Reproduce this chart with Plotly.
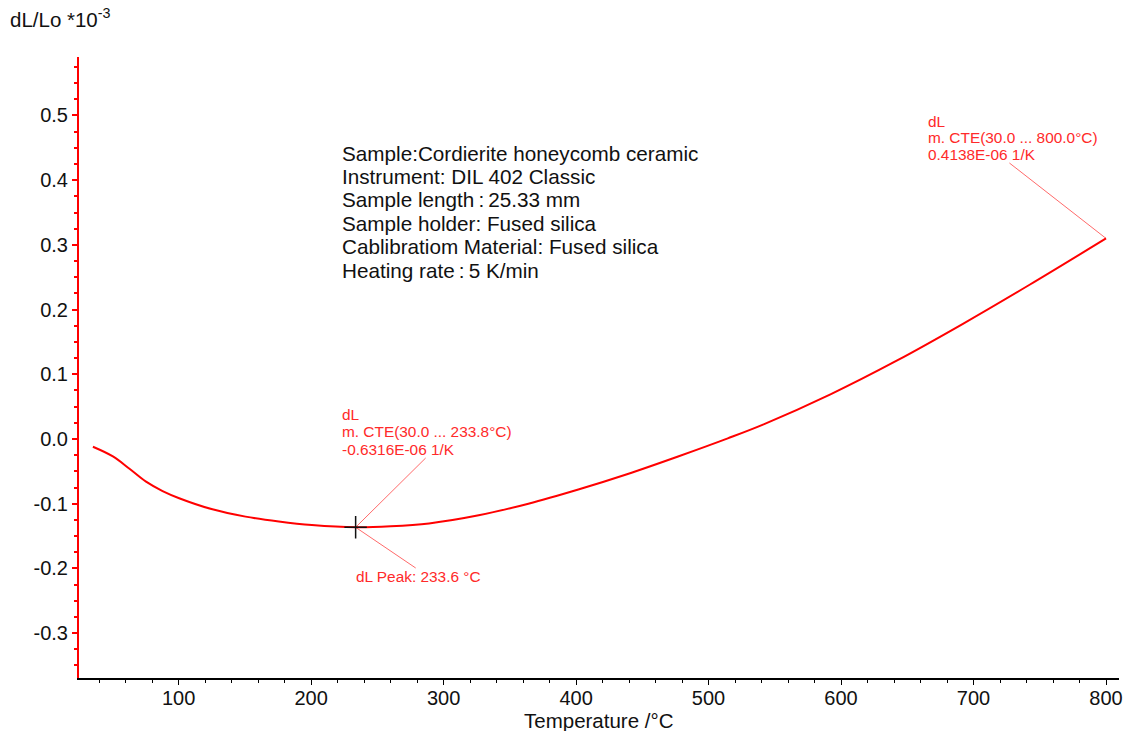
import numpy as np
import plotly.graph_objects as go

# Dilatometer run: relative length change dL/Lo (x1e-3) versus temperature
temperature_c = [35.3, 50.4, 62.9, 75.4, 87.9, 100.4, 125.5, 150.5, 175.6, 200.6,
                 233.6, 260.0, 289.0, 326.5, 364.0, 401.7, 439.0, 477.0, 514.5,
                 542.0, 592.0, 642.0, 692.0, 742.0, 800.0]
dl_lo = [-0.012, -0.027, -0.046, -0.066, -0.0805, -0.0915, -0.1087, -0.120, -0.1275, -0.1330,
         -0.1365, -0.1350, -0.1305, -0.118, -0.100, -0.078, -0.054, -0.027, 0.001,
         0.023, 0.069, 0.121, 0.178, 0.238, 0.310]

x_ticks = [100, 200, 300, 400, 500, 600, 700, 800]
y_ticks = [-0.3, -0.2, -0.1, 0.0, 0.1, 0.2, 0.3, 0.4, 0.5]
y_tick_text = ["-0.3", "-0.2", "-0.1", "0.0", "0.1", "0.2", "0.3", "0.4", "0.5"]

peak_temp = 233.6
peak_label = "dL Peak: 233.6 °C"
cte_low = ["dL", "m. CTE(30.0 ... 233.8°C)", "-0.6316E-06 1/K"]
cte_full = ["dL", "m. CTE(30.0 ... 800.0°C)", "0.4138E-06 1/K"]
info_lines = [
    "Sample:Cordierite honeycomb ceramic",
    "Instrument: DIL 402 Classic",
    "Sample length\u2009:\u200925.33 mm",
    "Sample holder: Fused silica",
    "Cablibratiom Material: Fused silica",
    "Heating rate\u2009:\u20095 K/min",
]

# canvas geometry (pixels)
W, H = 1131, 731
L, R, T, B = 79, 1123, 57, 678
X_RANGE = [24.8, 809.8]
Y_RANGE = [-0.3694, 0.5904]

FONT = "Liberation Sans, Arial, sans-serif"
RED = "#ff0000"
TXT_RED = "#ff2a2a"


def px_to_x(px):
    return X_RANGE[0] + (px - L) / (R - L) * (X_RANGE[1] - X_RANGE[0])


def py_to_y(py):
    return Y_RANGE[1] - (py - T) / (B - T) * (Y_RANGE[1] - Y_RANGE[0])


def paper(px, py):
    return (px - L) / (R - L), (B - py) / (B - T)


fig = go.Figure()

fig.add_trace(go.Scatter(
    x=temperature_c, y=dl_lo, mode="lines",
    line=dict(color=RED, width=2, shape="spline", smoothing=1.0),
    hoverinfo="skip", showlegend=False,
))

peak_val = float(np.interp(peak_temp, temperature_c, dl_lo))
end_t, end_v = temperature_c[-1], dl_lo[-1]

annotations = []
shapes = []


def text_at(px, py, s, size, color, anchor="left"):
    xp, yp = paper(px, py)
    annotations.append(dict(
        x=xp, y=yp, xref="paper", yref="paper", text=s, showarrow=False,
        xanchor=anchor, yanchor="middle", font=dict(family=FONT, size=size, color=color),
    ))


def leader(x0, y0, px, py):
    shapes.append(dict(
        type="line", xref="x", yref="y", x0=x0, y0=y0, x1=px_to_x(px), y1=py_to_y(py),
        line=dict(color="#ff6a6a", width=1), layer="below",
    ))


leader(peak_temp, peak_val, 427, 458)
leader(peak_temp, peak_val, 417, 568)
leader(end_t, end_v, 1013, 163)

fig.add_trace(go.Scatter(
    x=[peak_temp], y=[peak_val], mode="markers",
    marker=dict(symbol="cross-thin", size=16, line=dict(color="#111111", width=1.5)),
    hoverinfo="skip", showlegend=False,
))

# information block
for i, s in enumerate(info_lines):
    text_at(341, 153 + i * 23.4, s, 20.7, "#111111")

# CTE labels and peak label
for i, s in enumerate(cte_low):
    text_at(341, 414 + i * 17.5, s, 15.4, TXT_RED)
for i, s in enumerate(cte_full):
    text_at(929, 121 + i * 16.5, s, 15.4, TXT_RED)
text_at(355, 576, peak_label, 15.4, TXT_RED)

# axis titles
text_at(8, 18, "dL/Lo *10<sup>-3</sup>", 20.5, "#111111")
text_at(601, 720, "Temperature /°C", 20.5, "#111111", anchor="center")

fig.update_layout(
    width=W, height=H,
    margin=dict(l=L, r=W - R, t=T, b=H - B),
    paper_bgcolor="white", plot_bgcolor="white",
    annotations=annotations, shapes=shapes,
    font=dict(family=FONT, size=20, color="#111111"),
)

fig.update_xaxes(
    range=X_RANGE, tickvals=x_ticks, showgrid=False, zeroline=False,
    showline=True, linecolor="#000000", linewidth=1.5,
    ticks="outside", ticklen=5, tickwidth=1.3, tickcolor="#000000",
    ticklabelstandoff=-4,
    tickfont=dict(family=FONT, size=20, color="#111111"),
    minor=dict(dtick=20, tick0=0, ticks="outside", ticklen=3, tickwidth=1.3, tickcolor="#000000"),
)
fig.update_yaxes(
    range=Y_RANGE, tickvals=y_ticks, ticktext=y_tick_text, showgrid=False, zeroline=False,
    showline=True, linecolor=RED, linewidth=2,
    ticks="outside", ticklen=5, tickwidth=1.5, tickcolor=RED,
    tickfont=dict(family=FONT, size=20, color="#111111"),
    minor=dict(dtick=0.025, tick0=0, ticks="outside", ticklen=3, tickwidth=1.5, tickcolor=RED),
)

fig.write_html("out.html")
